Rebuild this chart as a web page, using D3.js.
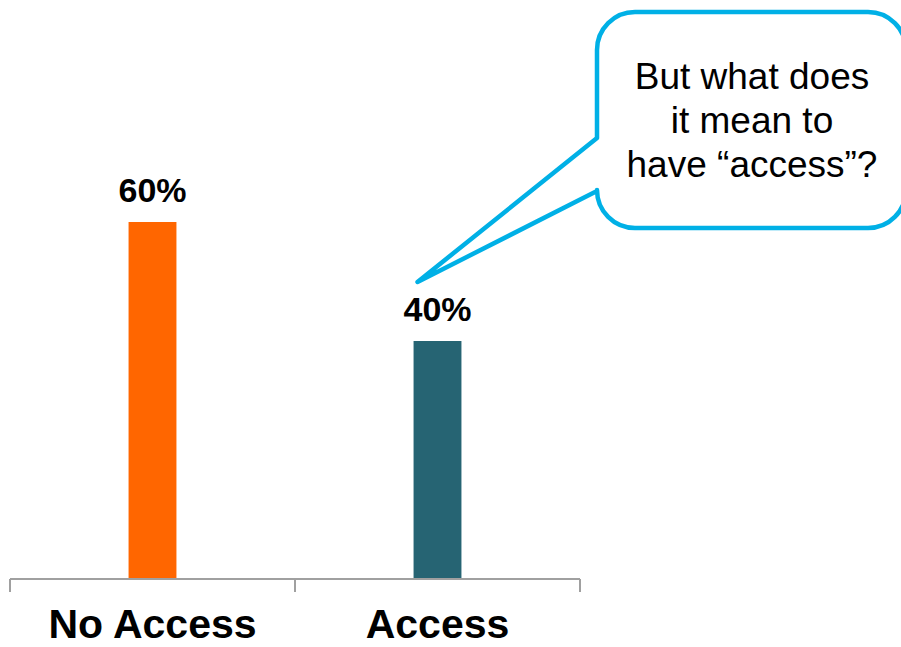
<!DOCTYPE html>
<html>
<head>
<meta charset="utf-8">
<script src="https://cdn.jsdelivr.net/npm/d3@7"></script>
<style>
  body { margin: 0; background: #fff; }
  svg { display: block; font-family: "Liberation Sans", Arial, sans-serif; }
</style>
</head>
<body>
<svg id="chart" width="901" height="647"></svg>
<script>
const categories = ['No Access', 'Access'];
const values = [60, 40];
const barColors = ['#FF6600', '#266473'];
const calloutLines = ['But what does', 'it mean to', 'have \u201Caccess\u201D?'];

const svg = d3.select('#chart');
const baseY = 579;

const xScale = d3.scaleBand()
  .domain(categories)
  .range([10, 580])
  .padding(0);

const yScale = d3.scaleLinear()
  .domain([0, 60])
  .range([baseY, 222]);

const barWidth = xScale.bandwidth() * 0.168;

// bars
svg.selectAll('.bar')
  .data(values)
  .enter()
  .append('rect')
  .attr('class', 'bar')
  .attr('x', (d, i) => xScale(categories[i]) + xScale.bandwidth() / 2 - barWidth / 2)
  .attr('y', d => yScale(d))
  .attr('width', barWidth)
  .attr('height', d => baseY - yScale(d))
  .attr('fill', (d, i) => barColors[i]);

// value labels
svg.selectAll('.val')
  .data(values)
  .enter()
  .append('text')
  .attr('class', 'val')
  .attr('x', (d, i) => xScale(categories[i]) + xScale.bandwidth() / 2)
  .attr('y', d => yScale(d) - 20)
  .attr('text-anchor', 'middle')
  .attr('font-size', 34)
  .attr('font-weight', 'bold')
  .attr('fill', '#000')
  .text(d => d + '%');

// axis line and tick marks at band edges
const axisG = svg.append('g').attr('stroke', '#A0A0A0').attr('stroke-width', 2);
const [r0, r1] = xScale.range();
axisG.append('line')
  .attr('x1', r0).attr('x2', r1)
  .attr('y1', baseY).attr('y2', baseY);
const edges = categories.map(c => xScale(c)).concat([r1]);
axisG.selectAll('.tick')
  .data(edges)
  .enter()
  .append('line')
  .attr('x1', d => d).attr('x2', d => d)
  .attr('y1', baseY).attr('y2', baseY + 13);

// category labels
svg.selectAll('.cat')
  .data(categories)
  .enter()
  .append('text')
  .attr('class', 'cat')
  .attr('x', d => xScale(d) + xScale.bandwidth() / 2)
  .attr('y', 638)
  .attr('text-anchor', 'middle')
  .attr('font-size', 41)
  .attr('font-weight', 'bold')
  .attr('fill', '#000')
  .text(d => d);

// speech bubble callout pointing at the Access bar
const bx0 = 597, by0 = 12, bx1 = 906, by1 = 228, r = 38;
const tipX = xScale('Access') + xScale.bandwidth() / 2 - 20;
const tipY = yScale(40) - 59;
const p = d3.path();
p.moveTo(bx0, 138);
p.lineTo(bx0, by0 + r);
p.arcTo(bx0, by0, bx0 + r, by0, r);
p.lineTo(bx1 - r, by0);
p.arcTo(bx1, by0, bx1, by0 + r, r);
p.lineTo(bx1, by1 - r);
p.arcTo(bx1, by1, bx1 - r, by1, r);
p.lineTo(bx0 + r, by1);
p.arcTo(bx0, by1, bx0, by1 - r, r);
p.lineTo(bx0, 191);
p.lineTo(tipX, tipY);
p.closePath();

svg.append('path')
  .attr('d', p.toString())
  .attr('fill', '#fff')
  .attr('stroke', '#00B0E6')
  .attr('stroke-width', 4.5)
  .attr('stroke-linejoin', 'round');

svg.append('text')
  .attr('x', 752)
  .attr('y', 89)
  .attr('text-anchor', 'middle')
  .attr('font-size', 37)
  .attr('fill', '#000')
  .selectAll('tspan')
  .data(calloutLines)
  .enter()
  .append('tspan')
  .attr('x', 752)
  .attr('dy', (d, i) => i === 0 ? 0 : 44)
  .text(d => d);
</script>
</body>
</html>
